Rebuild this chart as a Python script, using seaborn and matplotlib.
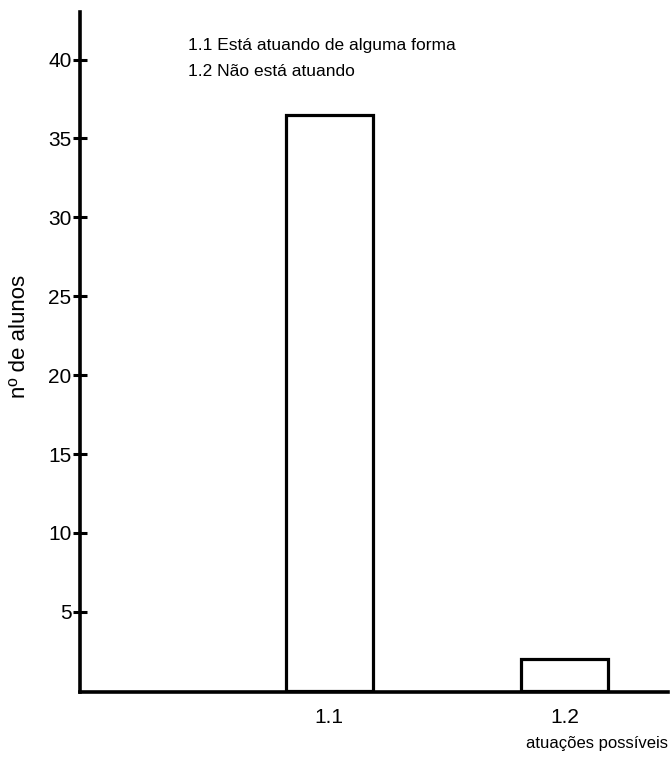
import matplotlib
matplotlib.use("Agg")
import matplotlib.pyplot as plt
import seaborn as sns
import pandas as pd

categories = ["1.1", "1.2"]
values = [36.5, 2]
legend_lines = ["1.1 Está atuando de alguma forma", "1.2 Não está atuando"]
y_ticks = [5, 10, 15, 20, 25, 30, 35, 40]

sns.set_theme(style="white")
plt.rcParams['font.family'] = ['Liberation Sans', 'DejaVu Sans']
plt.rcParams['text.color'] = 'black'

df = pd.DataFrame({"cat": categories, "val": values})

fig = plt.figure(figsize=(6.7, 7.65), dpi=100)
ax = fig.add_axes([0.119, 0.095, 0.878, 0.889])
sns.barplot(data=df, x="cat", y="val", ax=ax, width=0.37,
            color="white", edgecolor="black", linewidth=2.3)

ax.set_xlim(-1.06, 1.44)
ax.set_ylim(-0.1, 43)
ax.set_yticks(y_ticks)
ax.set_yticklabels([str(t) for t in y_ticks], fontsize=15)
ax.tick_params(axis="y", direction="inout", length=10, width=2.2, color="black",
               pad=1, left=True, labelcolor="black")
ax.tick_params(axis="x", length=0, pad=11, labelsize=15, labelcolor="black")
for s in ["top", "right"]:
    ax.spines[s].set_visible(False)
for s in ["left", "bottom"]:
    ax.spines[s].set_color("black")
    ax.spines[s].set_linewidth(2.6)

ax.set_xlabel("")
ax.set_ylabel("nº de alunos", fontsize=16, color="black")
ax.yaxis.set_label_coords(-0.085, 0.523)

fig.text(0.997, 0.022, "atuações possíveis", ha="right", va="baseline", fontsize=12)
for i, line in enumerate(legend_lines):
    fig.text(0.28, 0.941 - i * 0.035, line, ha="left", va="center", fontsize=12.5)

fig.savefig("out.png", dpi=100, facecolor="white")
